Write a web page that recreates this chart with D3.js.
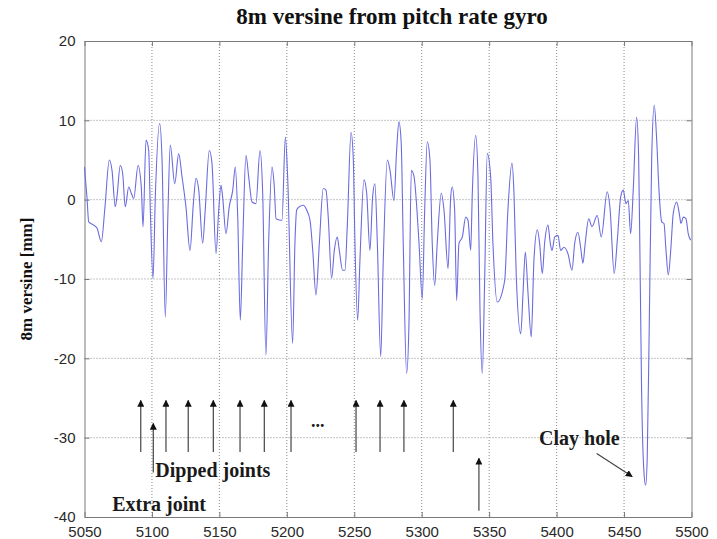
<!DOCTYPE html>
<html>
<head>
<meta charset="utf-8">
<script src="https://cdn.jsdelivr.net/npm/d3@7"></script>
<style>
  html, body { margin: 0; padding: 0; background: #fff; }
  svg { display: block; }
</style>
</head>
<body>
<svg id="chart" width="717" height="539"></svg>
<script>
// Chainage along the track [m] and 8m versine [mm]
const distance = [
  5050, 5051.9, 5053.1, 5056.8, 5059.3, 5062.5, 5065, 5068.4, 5070.4, 5072.8,
  5074.1, 5076.5, 5078.3, 5080.2, 5082.8, 5084.7, 5086.5, 5089.7, 5092.1, 5093.4,
  5095.6, 5097.6, 5098.8, 5100.8, 5102.5, 5105.7, 5107.5, 5109.9, 5111.9, 5113.6,
  5116.9, 5119.8, 5122.3, 5125.2, 5128.2, 5130.7, 5132.7, 5134.7, 5137.6, 5139.5,
  5142.5, 5144.5, 5147.5, 5149.5, 5151.2, 5152.4, 5154.9, 5157.3, 5159.9, 5161.8,
  5163.6, 5165.5, 5167.3, 5169.7, 5171.7, 5174.2, 5177.1, 5180.1, 5182.1, 5184.5,
  5186.5, 5189, 5190.7, 5192, 5196.4, 5198.9, 5200.6, 5204.3, 5206, 5207.3,
  5209.2, 5212.2, 5214.7, 5217.2, 5219.2, 5221.6, 5224.1, 5227, 5229, 5230.7,
  5233.2, 5235.2, 5237.4, 5238.9, 5241.4, 5243.1, 5244.8, 5247.6, 5249.3, 5250.5,
  5252.5, 5254.2, 5257.2, 5259.2, 5261.6, 5263.6, 5265.3, 5267.1, 5269.6, 5271.5,
  5274.5, 5276.5, 5279.4, 5281.4, 5283.1, 5284.8, 5286.3, 5288.8, 5290.5, 5292.3,
  5294.3, 5296.3, 5298, 5300.4, 5302.2, 5304.1, 5306.1, 5307.8, 5309.6, 5311.5,
  5314.5, 5316.5, 5319.5, 5321.5, 5322.6, 5324.4, 5325.9, 5327.6, 5330.1, 5332.6,
  5334.3, 5336.3, 5337.5, 5340, 5341.7, 5343.2, 5344.9, 5346.7, 5348.6, 5351.1,
  5352.8, 5356, 5361.5, 5363.9, 5366.9, 5368.4, 5370.1, 5373.4, 5375.1, 5376.8,
  5378.8, 5381.2, 5383.2, 5385.7, 5387.4, 5389.4, 5391.1, 5393.6, 5395.3, 5396.6,
  5398.6, 5401, 5403, 5405.5, 5408.4, 5411.4, 5413.4, 5415.8, 5417.8, 5419.5,
  5421.2, 5423.8, 5426.2, 5430.1, 5433.1, 5437.5, 5439.5, 5442.7, 5445, 5447.5,
  5449.4, 5451.4, 5453.1, 5454.9, 5456.8, 5459.3, 5460.8, 5461.8, 5463, 5464.8,
  5466, 5467.2, 5468.7, 5470.5, 5472.4, 5474.2, 5475.9, 5477.9, 5479.6, 5481.1,
  5482.8, 5484.6, 5486.5, 5489, 5490.9, 5492.2, 5493.9, 5495.9, 5497.6, 5499.4
];
const versine = [
  4.1, 0.15, -2.8, -3.2, -3.6, -5.3, -1.3, 5.0, 3.7, -0.9,
  0.4, 4.3, 3.3, -0.9, 1.6, 0.8, 0.15, 4.3, 1.6, -3.4,
  7.5, 6.2, -1.3, -9.9, 0.35, 9.6, 5.0, -14.8, -1.3, 6.9,
  2.0, 5.8, 2.9, -0.9, -6.4, -0.5, 2.7, 1.2, -5.5, -1.3,
  6.2, 4.6, -6.8, -1.3, 1.8, 0.35, -4.3, -0.9, 1.2, 4.1,
  -2.2, -15.2, -5.5, 5.6, 2.9, -0.3, -0.5, 6.2, 0.8, -19.6,
  -5.5, 4.1, 1.6, -2.4, -2.6, 7.9, 2.9, -18.1, -5.5, -1.3,
  -0.9, -0.7, -1.3, -2.6, -6.4, -12.0, -5.5, 1.4, 1.2, -2.2,
  -9.9, -6.4, -4.7, -6.4, -8.9, -8.9, -3.4, 8.5, 5.0, -5.5,
  -15.2, -7.6, 2.5, 0.8, -6.4, 0.35, 2.0, -5.5, -19.8, -7.6,
  5.0, 3.7, -0.1, 6.2, 9.8, 7.1, -5.5, -21.9, -16, 3.7,
  2.9, -0.9, -5.5, -12.5, -1.3, 7.3, 5.0, -5.5, -10.8, -5.5,
  0.8, -1.3, -8.7, 0.35, 1.6, -1.3, -12.7, -5.5, -4.7, -2.2,
  -2.6, -6.4, 0.8, 8.1, 2.9, -13.9, -21.9, -9.7, 5.8, 2.9,
  -5.5, -12.9, -10.2, -1.3, 4.6, 0.8, -9.7, -16.9, -11.8, -6.6,
  -11.8, -17.3, -7.6, -3.8, -5.5, -9.3, -5.5, -3.2, -5.5, -6.4,
  -4.7, -4.5, -6.4, -6.0, -6.8, -8.9, -5.5, -4.1, -6.0, -8.0,
  -5.5, -2.4, -3.4, -2.0, -4.7, 1.0, -0.9, -9.3, -5.1, 0.35,
  1.2, -0.5, -0.1, -4.3, 1.2, 10.4, 5.4, -7.2, -24, -34.5,
  -36.0, -32.4, -15.6, 5.4, 11.9, 7.5, 1.2, -2.8, -3.0, -6.4,
  -9.5, -6.4, -1.7, -0.3, -1.7, -3.0, -2.2, -2.4, -4.3, -5.1
];

// Axis ticks
const xTicks = [5050, 5100, 5150, 5200, 5250, 5300, 5350, 5400, 5450, 5500];
const yTicks = [20, 10, 0, -10, -20, -30, -40];

// Annotation positions (chainage of the dipped joints, extra joint, second-rail joint)
const dippedJoints = [5091.7, 5110.4, 5126.9, 5145.5, 5165.3, 5183.3, 5203.1, 5251.3, 5269.1, 5286.8, 5323.4];
const extraJoint = [5101];
const lowerJoint = [5342.4];

const svg = d3.select("#chart");
const margin = { left: 84.5, right: 717 - 691.5, top: 41, bottom: 539 - 517 };
const W = 717, H = 539;

const x = d3.scaleLinear().domain([5050, 5500]).range([margin.left, W - margin.right]);
const y = d3.scaleLinear().domain([-40, 20]).range([H - margin.bottom, margin.top]);

const gridColor = "#8a8a8a";

// Grid (dotted)
const grid = svg.append("g");
grid.selectAll("line.gx").data(xTicks.slice(1, -1)).join("line")
  .attr("x1", d => x(d)).attr("x2", d => x(d))
  .attr("y1", y(20)).attr("y2", y(-40))
  .attr("stroke", gridColor).attr("stroke-width", 1).attr("stroke-dasharray", "1,2");
grid.selectAll("line.gy").data(yTicks.slice(1, -1)).join("line")
  .attr("y1", d => y(d)).attr("y2", d => y(d))
  .attr("x1", x(5050)).attr("x2", x(5500))
  .attr("stroke", gridColor).attr("stroke-width", 1).attr("stroke-dasharray", "1,2");

// Axes with inward ticks; plain integers with an ASCII minus sign
const fmt = d => String(d);
const xAxis = d3.axisBottom(x).tickValues(xTicks).tickFormat(fmt).tickSizeInner(-5).tickSizeOuter(0).tickPadding(9);
const yAxis = d3.axisLeft(y).tickValues(yTicks).tickFormat(fmt).tickSizeInner(-5).tickSizeOuter(0).tickPadding(9);
const xTop = d3.axisTop(x).tickValues(xTicks).tickSizeInner(-5).tickSizeOuter(0).tickFormat("");
const yRight = d3.axisRight(y).tickValues(yTicks).tickSizeInner(-5).tickSizeOuter(0).tickFormat("");

function styleAxis(g) {
  g.select(".domain").attr("stroke", "#7a7a7a");
  g.selectAll(".tick line").attr("stroke", "#7a7a7a");
  g.selectAll(".tick text").attr("fill", "#2a2a2a")
    .style("font-family", "'Liberation Sans', Arial, sans-serif").style("font-size", "15px");
}
svg.append("g").attr("transform", `translate(0,${y(-40)})`).call(xAxis).call(styleAxis);
svg.append("g").attr("transform", `translate(${x(5050)},0)`).call(yAxis).call(styleAxis);
svg.append("g").attr("transform", `translate(0,${y(20)})`).call(xTop).call(styleAxis);
svg.append("g").attr("transform", `translate(${x(5500)},0)`).call(yRight).call(styleAxis);

// Versine trace
const pts = distance.map((d, i) => [d, versine[i]]);
const line = d3.line().x(d => x(d[0])).y(d => y(d[1])).curve(d3.curveMonotoneX);
svg.append("path").datum(pts)
  .attr("d", line).attr("fill", "none")
  .attr("stroke", "#6b6be0").attr("stroke-width", 1.1);

// Arrow marker
svg.append("defs").append("marker")
  .attr("id", "head").attr("viewBox", "0 0 10 10")
  .attr("refX", 9).attr("refY", 5)
  .attr("markerWidth", 7).attr("markerHeight", 7)
  .attr("markerUnits", "userSpaceOnUse")
  .attr("orient", "auto")
  .append("path").attr("d", "M0,0 L10,5 L0,10 Z").attr("fill", "#111");

const ann = svg.append("g");
function arrow(x0, y0, x1, y1) {
  ann.append("line")
    .attr("x1", x(x0)).attr("y1", y(y0)).attr("x2", x(x1)).attr("y2", y(y1))
    .attr("stroke", "#444").attr("stroke-width", 1.2)
    .attr("marker-end", "url(#head)");
}
dippedJoints.forEach(d => arrow(d, -31.8, d, -25.3));
extraJoint.forEach(d => arrow(d, -34.4, d, -28.2));
lowerJoint.forEach(d => arrow(d, -39.2, d, -32.6));
// Clay hole pointer
arrow(5429.7, -32.0, 5456, -34.9);

const serif = "'Liberation Serif', 'Times New Roman', serif";
function label(txt, xv, yv, size, anchor) {
  ann.append("text").attr("x", x(xv)).attr("y", y(yv))
    .attr("text-anchor", anchor || "start")
    .style("font-family", serif).style("font-weight", "bold")
    .style("font-size", size + "px").attr("fill", "#1a1a1a").text(txt);
}
label("Dipped joints", 5102.5, -34.9, 20);
label("Extra joint", 5070.5, -39.2, 20);
label("Clay hole", 5387, -30.9, 20);
label("...", 5223, -28.6, 18, "middle");

// Title
svg.append("text").attr("x", (x(5050) + x(5500)) / 2 + 4).attr("y", 24)
  .attr("text-anchor", "middle")
  .style("font-family", serif).style("font-weight", "bold").style("font-size", "23px")
  .attr("fill", "#111").text("8m versine from pitch rate gyro");

// Y-axis label
svg.append("text")
  .attr("transform", `translate(32,${(y(20) + y(-40)) / 2}) rotate(-90)`)
  .attr("text-anchor", "middle")
  .style("font-family", serif).style("font-weight", "bold").style("font-size", "17px")
  .attr("fill", "#111").text("8m versine [mm]");
</script>
</body>
</html>
